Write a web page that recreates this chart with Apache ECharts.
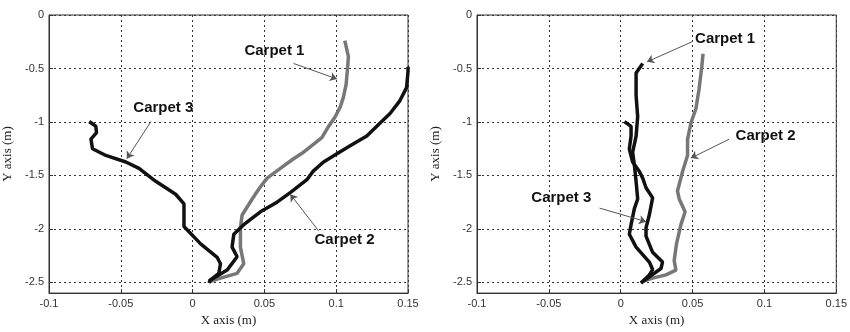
<!DOCTYPE html>
<html>
<head>
<meta charset="utf-8">
<script src="https://cdn.jsdelivr.net/npm/echarts@6/dist/echarts.min.js"></script>
<style>
  html, body { margin: 0; padding: 0; background: #fff; }
  #chart { width: 850px; height: 332px; }
</style>
</head>
<body>
<div id="chart"></div>
<script>
// left panel traces  [x (m), y (m)]
var leftCarpet1 = [[0.106, -0.24], [0.1085, -0.39], [0.1079, -0.498], [0.1069, -0.649], [0.105, -0.77], [0.1028, -0.86],
  [0.0993, -0.951], [0.0947, -1.042], [0.09, -1.147], [0.0843, -1.208], [0.0773, -1.283], [0.0703, -1.344],
  [0.0611, -1.434], [0.0519, -1.525], [0.0465, -1.62], [0.0415, -1.72], [0.0345, -1.87], [0.0333, -1.99],
  [0.0333, -2.17], [0.0356, -2.325], [0.031, -2.415], [0.0194, -2.46], [0.0125, -2.49]];
var leftCarpet2 = [[0.15, -0.483], [0.15, -0.528], [0.149, -0.679], [0.1444, -0.8], [0.1375, -0.921], [0.1306, -1.01],
  [0.1213, -1.132], [0.1097, -1.223], [0.1005, -1.298], [0.0912, -1.374], [0.084, -1.46], [0.0796, -1.54],
  [0.068, -1.66], [0.0588, -1.75], [0.0472, -1.84], [0.0356, -1.96], [0.0287, -2.05], [0.0275, -2.17],
  [0.031, -2.26], [0.024, -2.385], [0.0148, -2.46], [0.0113, -2.49]];
var leftCarpet3 = [[-0.072, -0.996], [-0.0674, -1.04], [-0.0669, -1.1], [-0.0708, -1.16], [-0.0697, -1.25], [-0.0604, -1.313],
  [-0.0465, -1.374], [-0.0373, -1.434], [-0.0257, -1.555], [-0.0118, -1.676], [-0.006, -1.766], [-0.006, -1.977],
  [0.0056, -2.14], [0.0171, -2.265], [0.0194, -2.325], [0.0183, -2.415], [0.0125, -2.476], [0.0113, -2.506]];

// right panel traces
var rightCarpet1 = [[0.0153, -0.453], [0.0107, -0.543], [0.0107, -0.755], [0.0118, -0.951], [0.0107, -1.132],
  [0.0083, -1.283], [0.0095, -1.404], [0.0107, -1.555], [0.0118, -1.72], [0.0095, -1.81], [0.0072, -1.96],
  [0.006, -2.05], [0.0107, -2.17], [0.0199, -2.31], [0.0222, -2.38], [0.0199, -2.43], [0.0141, -2.505]];
var rightCarpet2 = [[0.0573, -0.362], [0.0564, -0.483], [0.0545, -0.694], [0.0523, -0.876], [0.0488, -1.012], [0.0465, -1.162],
  [0.0465, -1.313], [0.043, -1.464], [0.0395, -1.646], [0.0407, -1.72], [0.0448, -1.84], [0.0419, -1.96], [0.0388, -2.14],
  [0.0372, -2.295], [0.0384, -2.385], [0.0315, -2.43], [0.0222, -2.46], [0.0153, -2.49]];
var rightCarpet3 = [[0.0026, -0.996], [0.0072, -1.042], [0.0072, -1.132], [0.006, -1.253], [0.0083, -1.374], [0.013, -1.464],
  [0.0153, -1.525], [0.0176, -1.615], [0.0222, -1.71], [0.0199, -1.87], [0.0176, -1.99], [0.0176, -2.068], [0.0222, -2.219],
  [0.0291, -2.31], [0.028, -2.37], [0.0141, -2.505]];

// annotations: label, text position, arrow start, arrow tip
var leftNotes = [
  ["Carpet 1", [0.057, -0.338], [0.0703, -0.453], [0.1005, -0.598]],
  ["Carpet 2", [0.1058, -2.099], [0.0877, -2.017], [0.068, -1.676]],
  ["Carpet 3", [-0.0204, -0.87], [-0.029, -0.996], [-0.0458, -1.343]]
];
var rightNotes = [
  ["Carpet 1", [0.0726, -0.226], [0.05, -0.248], [0.0183, -0.438]],
  ["Carpet 2", [0.1008, -1.126], [0.0753, -1.162], [0.0488, -1.338]],
  ["Carpet 3", [-0.0413, -1.712], [-0.0148, -1.805], [0.0176, -1.932]]
];

var xMin = -0.1, xMax = 0.15, xStep = 0.05;
var yMin = -2.6, yMax = 0;

var tickFont = { fontFamily: "Liberation Sans", fontSize: 11, color: "#333" };
var gridLine = { show: true, lineStyle: { color: "#333", type: [2, 3], width: 1 } };

function xAxisFor(i) {
  return {
    type: "value", gridIndex: i, min: xMin, max: xMax, interval: xStep,
    name: "X axis (m)", nameLocation: "middle", nameGap: 20,
    nameTextStyle: { fontFamily: "Liberation Serif", fontSize: 13, color: "#222" },
    axisLine: { show: true, onZero: false, lineStyle: { color: "#333" } },
    axisTick: { show: true, inside: true, length: 4, lineStyle: { color: "#333" } },
    axisLabel: Object.assign({ margin: 5 }, tickFont),
    splitLine: gridLine
  };
}
function yAxisFor(i) {
  return {
    type: "value", gridIndex: i, min: yMin, max: yMax, splitNumber: 5,
    name: "Y axis (m)", nameLocation: "middle", nameGap: 35, nameRotate: 90,
    nameTextStyle: { fontFamily: "Liberation Serif", fontSize: 13, color: "#222" },
    axisLine: { show: true, onZero: false, lineStyle: { color: "#333" } },
    axisTick: { show: true, inside: true, length: 4, lineStyle: { color: "#333" } },
    axisLabel: Object.assign({ margin: 5, showMinLabel: false }, tickFont),
    splitLine: gridLine
  };
}

function trace(data, i, color, notes) {
  var s = {
    type: "line", xAxisIndex: i, yAxisIndex: i, data: data,
    showSymbol: false, symbol: "none", smooth: false, animation: false,
    lineStyle: { color: color, width: 3.5 }, z: 3
  };
  if (notes) {
    s.markLine = {
      silent: true, animation: false, symbol: ["none", "arrow"], symbolSize: 7,
      lineStyle: { color: "#555", width: 1, type: "solid" }, label: { show: false },
      data: notes.map(function (n) { return [{ coord: n[2] }, { coord: n[3] }]; })
    };
    s.markPoint = {
      silent: true, animation: false, symbol: "circle", symbolSize: 0,
      data: notes.map(function (n) {
        return {
          coord: n[1],
          label: {
            show: true, position: "inside", formatter: n[0],
            fontFamily: "Liberation Sans", fontWeight: "bold", fontSize: 15, color: "#111"
          }
        };
      })
    };
  }
  return s;
}

var myChart = echarts.init(document.getElementById("chart"), null, { renderer: "canvas" });
var option = {
  backgroundColor: "#fff",
  animation: false,
  grid: [
    { left: 48, top: 15, width: 360, height: 287, show: true, borderColor: "#333", borderWidth: 1 },
    { left: 477, top: 15, width: 361, height: 287, show: true, borderColor: "#333", borderWidth: 1 }
  ],
  xAxis: [xAxisFor(0), xAxisFor(1)],
  yAxis: [yAxisFor(0), yAxisFor(1)],
  series: [
    trace(leftCarpet1, 0, "#777", leftNotes),
    trace(leftCarpet2, 0, "#111"),
    trace(leftCarpet3, 0, "#111"),
    trace(rightCarpet2, 1, "#777", rightNotes),
    trace(rightCarpet1, 1, "#111"),
    trace(rightCarpet3, 1, "#111")
  ]
};
myChart.setOption(option);
</script>
</body>
</html>
